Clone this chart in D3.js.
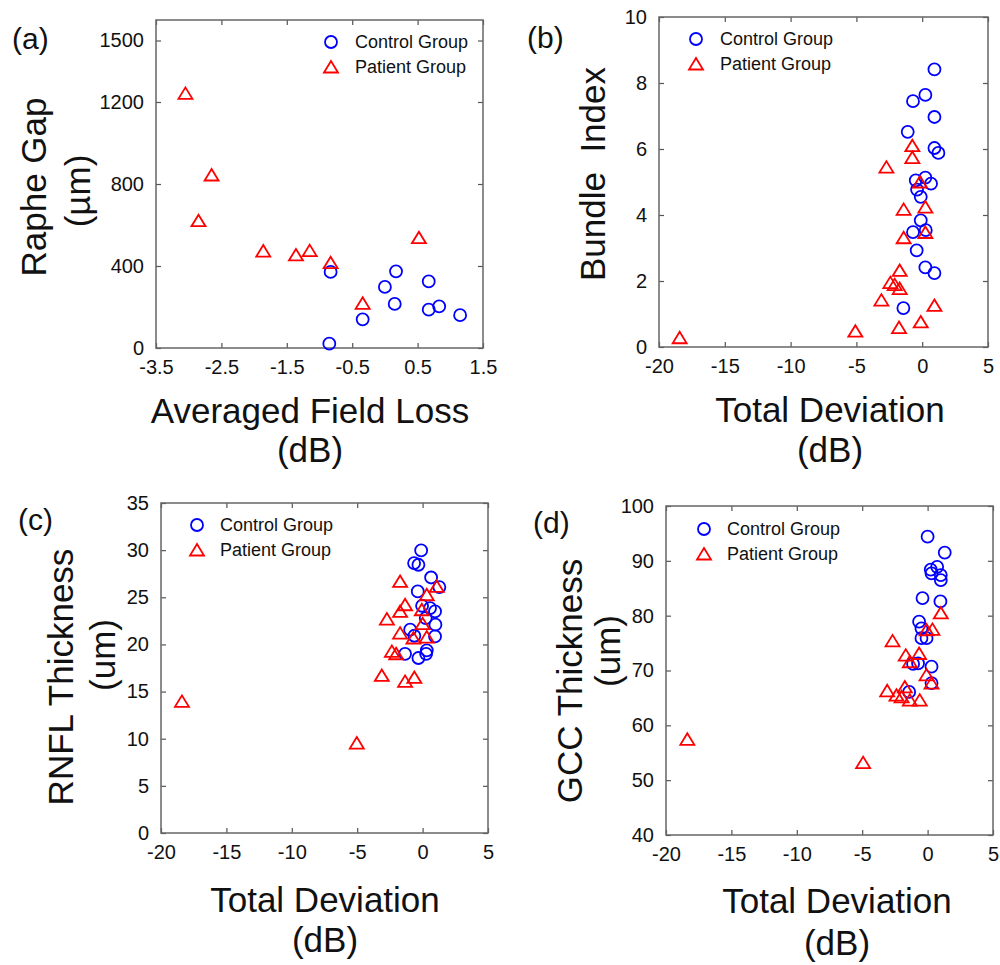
<!DOCTYPE html>
<html>
<head>
<meta charset="utf-8">
<script src="https://cdn.jsdelivr.net/npm/d3@7/dist/d3.min.js"></script>
<style>
	body { margin: 0; background: #fff; }
	svg text { font-family: Arial, 'Liberation Sans', sans-serif; fill: #111; }
</style>
</head>
<body>
<div id="chart"></div>
<script>
// (a) Raphe gap vs averaged field loss
const controlA = [[-0.83, 371], [-0.85, 21], [-0.34, 140], [0.0, 298], [0.17, 374], [0.15, 215], [0.67, 325], [0.67, 187], [0.83, 203], [1.15, 160]];
const patientA = [[-3.05, 1242], [-2.65, 844], [-2.85, 621], [-1.86, 473], [-1.36, 454], [-1.15, 475], [-0.83, 416], [-0.34, 218], [0.52, 538]];
const xTicksA = [-3.5, -2.5, -1.5, -0.5, 0.5, 1.5];
const yTicksA = [0, 400, 800, 1200, 1500];

// (b) Bundle index vs total deviation
const controlB = [[0.93, 8.41], [0.24, 7.64], [-0.70, 7.45], [0.93, 6.97], [-1.10, 6.52], [0.93, 6.03], [1.23, 5.88], [-0.49, 5.05], [0.24, 5.13], [0.67, 4.95], [-0.39, 4.77], [-0.11, 4.55], [-0.11, 3.84], [-0.70, 3.48], [0.27, 3.54], [-0.42, 2.93], [0.24, 2.41], [0.93, 2.24], [-1.43, 1.18]];
const patientB = [[-0.75, 6.10], [-0.75, 5.74], [-2.72, 5.45], [-0.17, 5.0], [-1.41, 4.17], [0.24, 4.24], [-1.41, 3.31], [0.24, 3.47], [-1.71, 2.32], [-2.42, 1.95], [-2.09, 1.89], [-1.71, 1.77], [-3.10, 1.42], [0.93, 1.26], [-1.76, 0.59], [-0.11, 0.76], [-5.08, 0.48], [-18.43, 0.28]];
const yTicksB = [0, 2, 4, 6, 8, 10];

// (c) RNFL thickness vs total deviation
const controlC = [[-0.11, 29.97], [-0.65, 28.63], [-0.32, 28.45], [0.65, 27.1], [1.28, 26.08], [-0.37, 25.62], [-0.04, 24.1], [0.57, 23.86], [0.95, 23.5], [0.24, 22.8], [0.98, 22.09], [-0.95, 21.56], [0.95, 20.85], [-0.63, 20.92], [-1.34, 19.0], [0.32, 19.37], [0.27, 19.0], [-0.32, 18.56]];
const patientC = [[-1.72, 26.68], [1.08, 26.15], [0.32, 25.27], [-1.34, 24.21], [-1.72, 23.5], [-0.06, 23.68], [-2.73, 22.69], [0.0, 22.2], [-1.72, 21.2], [-0.70, 20.68], [0.32, 20.78], [-2.35, 19.26], [-2.02, 19.01], [-3.12, 16.71], [-1.34, 16.08], [-0.63, 16.5], [-18.4, 13.96], [-5.03, 9.54]];
const yTicksC = [0, 5, 10, 15, 20, 25, 30, 35];

// (d) GCC thickness vs total deviation
const controlD = [[0.0, 94.4], [1.31, 91.5], [0.24, 88.4], [0.73, 88.9], [0.30, 87.7], [1.01, 87.4], [1.01, 86.5], [-0.39, 83.2], [0.98, 82.6], [-0.65, 78.9], [-0.47, 77.7], [-0.47, 75.9], [-0.08, 75.9], [-1.11, 71.2], [-0.73, 71.3], [0.30, 70.7], [0.30, 67.7], [-1.41, 66.1]];
const patientD = [[1.01, 80.5], [0.37, 77.5], [-0.08, 77.4], [-2.68, 75.4], [-1.67, 72.8], [-0.65, 73.1], [-1.36, 71.6], [-0.08, 69.2], [0.30, 67.7], [-3.09, 66.3], [-1.74, 67.0], [-2.38, 65.5], [-1.99, 65.2], [-1.36, 64.6], [-0.60, 64.6], [-4.93, 53.2], [-18.37, 57.45]];
const yTicksD = [40, 50, 60, 70, 80, 90, 100];

const xTicksTD = [-20, -15, -10, -5, 0, 5];
const legendNames = ['Control Group', 'Patient Group'];

const panels = [
	{
		letter: '(a)', letterPos: [12, 49],
		box: { left: 156, top: 20, right: 483, bottom: 348 },
		xDomain: [-3.5, 1.5], xTicks: xTicksA, yDomain: [0, 1600], yTicks: yTicksA,
		ylab: [{ text: 'Raphe Gap', x: 46, y: 187 }, { text: '(\u00b5m)', x: 90, y: 191 }],
		xlab: { x: 310, lines: ['Averaged Field Loss', '(dB)'], y: [423, 462] },
		legend: { x: 331, y: 42, tx: 355 },
		control: controlA, patient: patientA
	},
	{
		letter: '(b)', letterPos: [527, 48],
		box: { left: 659, top: 17, right: 988, bottom: 347 },
		xDomain: [-20, 5], xTicks: xTicksTD, yDomain: [0, 10], yTicks: yTicksB,
		ylab: [{ text: 'Bundle  Index', x: 605, y: 174 }],
		xlab: { x: 830, lines: ['Total Deviation', '(dB)'], y: [422, 462] },
		legend: { x: 696, y: 39, tx: 720 },
		control: controlB, patient: patientB
	},
	{
		letter: '(c)', letterPos: [18, 530],
		box: { left: 161, top: 503, right: 488, bottom: 833 },
		xDomain: [-20, 5], xTicks: xTicksTD, yDomain: [0, 35], yTicks: yTicksC,
		ylab: [{ text: 'RNFL Thickness', x: 73, y: 677 }, { text: '(um)', x: 115, y: 655 }],
		xlab: { x: 325, lines: ['Total Deviation', '(dB)'], y: [912, 952] },
		legend: { x: 197, y: 525, tx: 220 },
		control: controlC, patient: patientC
	},
	{
		letter: '(d)', letterPos: [533, 533],
		box: { left: 666, top: 506, right: 993, bottom: 835 },
		xDomain: [-20, 5], xTicks: xTicksTD, yDomain: [40, 100], yTicks: yTicksD,
		ylab: [{ text: 'GCC Thickness', x: 582, y: 681 }, { text: '(um)', x: 620, y: 651 }],
		xlab: { x: 837, lines: ['Total Deviation', '(dB)'], y: [913, 955] },
		legend: { x: 704, y: 529, tx: 727 },
		control: controlD, patient: patientD
	}
];

const triangle = 'M0,-6L7,5.5L-7,5.5Z';
const blue = '#0000ff';
const red = '#ff0000';
const tickLen = 5;
const markR = 6;
const markW = 1.8;
const plain = (d) => String(d); // matlab-ish labels: hyphen minus, no thousands comma

const svg = d3.select('#chart')
	.append('svg')
	.attr('width', 1000)
	.attr('height', 965);

panels.forEach((p) => {
	const b = p.box;
	const x = d3.scaleLinear().domain(p.xDomain).range([b.left, b.right]);
	const y = d3.scaleLinear().domain(p.yDomain).range([b.bottom, b.top]);
	const g = svg.append('g');

	// axes: ticks inward on all four sides
	const axisStyle = (sel) => {
		sel.select('.domain').remove();
		sel.selectAll('.tick line').attr('stroke', '#555').attr('stroke-width', 1.2);
		sel.selectAll('text').style('font-size', '20px').attr('fill', '#111');
	};
	g.append('g')
		.attr('transform', 'translate(0,' + b.bottom + ')')
		.call(d3.axisBottom(x).tickValues(p.xTicks).tickSizeInner(-tickLen).tickSizeOuter(0).tickPadding(tickLen + 7).tickFormat(plain))
		.call(axisStyle);
	g.append('g')
		.attr('transform', 'translate(0,' + b.top + ')')
		.call(d3.axisTop(x).tickValues(p.xTicks).tickSizeInner(-tickLen).tickSizeOuter(0).tickFormat(''))
		.call(axisStyle);
	g.append('g')
		.attr('transform', 'translate(' + b.left + ',0)')
		.call(d3.axisLeft(y).tickValues(p.yTicks).tickSizeInner(-tickLen).tickSizeOuter(0).tickPadding(tickLen + 7).tickFormat(plain))
		.call(axisStyle);
	g.append('g')
		.attr('transform', 'translate(' + b.right + ',0)')
		.call(d3.axisRight(y).tickValues(p.yTicks).tickSizeInner(-tickLen).tickSizeOuter(0).tickFormat(''))
		.call(axisStyle);

	g.selectAll('.tick text').attr('font-family', 'Arial, Liberation Sans, sans-serif');

	// box
	g.append('rect')
		.attr('x', b.left)
		.attr('y', b.top)
		.attr('width', b.right - b.left)
		.attr('height', b.bottom - b.top)
		.attr('fill', 'none')
		.attr('stroke', '#666')
		.attr('stroke-width', 1.5);

	// control group circles
	g.append('g')
		.selectAll('circle')
		.data(p.control)
		.enter()
		.append('circle')
		.attr('cx', (d) => x(d[0]))
		.attr('cy', (d) => y(d[1]))
		.attr('r', markR)
		.attr('fill', 'none')
		.attr('stroke', blue)
		.attr('stroke-width', markW);

	// patient group triangles
	g.append('g')
		.selectAll('path')
		.data(p.patient)
		.enter()
		.append('path')
		.attr('d', triangle)
		.attr('transform', (d) => 'translate(' + x(d[0]) + ',' + y(d[1]) + ')')
		.attr('fill', 'none')
		.attr('stroke', red)
		.attr('stroke-width', markW);

	// legend
	const lg = g.append('g');
	lg.append('circle')
		.attr('cx', p.legend.x)
		.attr('cy', p.legend.y)
		.attr('r', markR)
		.attr('fill', 'none')
		.attr('stroke', blue)
		.attr('stroke-width', markW);
	lg.append('path')
		.attr('d', triangle)
		.attr('transform', 'translate(' + p.legend.x + ',' + (p.legend.y + 25) + ')')
		.attr('fill', 'none')
		.attr('stroke', red)
		.attr('stroke-width', markW);
	lg.selectAll('text')
		.data(legendNames)
		.enter()
		.append('text')
		.attr('x', p.legend.tx)
		.attr('y', (d, i) => p.legend.y + i * 25)
		.attr('dominant-baseline', 'central')
		.style('font-size', '18px')
		.text((d) => d);

	// panel letter
	g.append('text')
		.attr('x', p.letterPos[0])
		.attr('y', p.letterPos[1])
		.style('font-size', '30px')
		.text(p.letter);

	// y label lines (rotated)
	p.ylab.forEach((l) => {
		g.append('text')
			.attr('transform', 'translate(' + l.x + ',' + l.y + ') rotate(-90)')
			.attr('text-anchor', 'middle')
			.style('font-size', '35px')
			.style('white-space', 'pre')
			.text(l.text);
	});

	// x label lines
	p.xlab.lines.forEach((t, i) => {
		g.append('text')
			.attr('x', p.xlab.x)
			.attr('y', p.xlab.y[i])
			.attr('text-anchor', 'middle')
			.style('font-size', '35px')
			.text(t);
	});
});
</script>
</body>
</html>
